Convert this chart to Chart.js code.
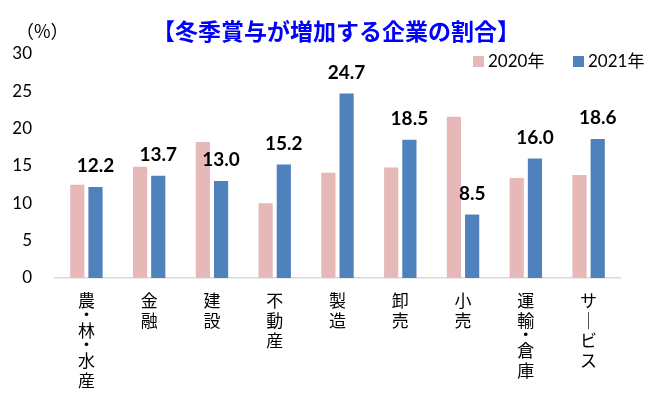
<!DOCTYPE html>
<html>
<head>
<meta charset="utf-8">
<script src="https://cdn.jsdelivr.net/npm/chart.js@4"></script>
<style>
  html, body { margin: 0; padding: 0; background: #fff; }
  #wrap { width: 650px; height: 409px; }
</style>
</head>
<body>
<div id="wrap"><canvas id="chart" width="650" height="409"></canvas></div>
<script>
// industries, written vertically one char per line
const categories = ["農・林・水産", "金融", "建設", "不動産", "製造", "卸売", "小売", "運輸・倉庫", "サービス"];
const values2020 = [12.5, 14.9, 18.2, 10.0, 14.1, 14.8, 21.6, 13.4, 13.8];
const values2021 = [12.2, 13.7, 13.0, 15.2, 24.7, 18.5, 8.5, 16.0, 18.6];
const seriesNames = ["2020年", "2021年"];
const seriesColors = ["#E6B9B8", "#4F81BD"];
const yTicks = [0, 5, 10, 15, 20, 25, 30];
const chartTitle = "【冬季賞与が増加する企業の割合】";
const unitLabel = "（%）";

const numFont = "Lato, 'Noto Sans CJK JP', sans-serif";
const jpFont = "'Noto Sans CJK JP', sans-serif";

// title, unit, legend, value labels and vertical category labels
const textPlugin = {
  id: "texts",
  afterDatasetsDraw(chart) {
    const ctx = chart.ctx;
    ctx.save();

    // title
    ctx.fillStyle = "#0000FF";
    ctx.font = "bold 23px " + jpFont;
    ctx.textAlign = "center";
    ctx.textBaseline = "middle";
    ctx.fillText(chartTitle, 336, 31);

    // unit
    ctx.fillStyle = "#000";
    ctx.font = "18px " + jpFont;
    ctx.textAlign = "left";
    ctx.fillText(unitLabel, 16, 31);

    // legend
    const legendX = [473, 573];
    ctx.font = "17px " + numFont;
    seriesNames.forEach((name, i) => {
      ctx.fillStyle = seriesColors[i];
      ctx.fillRect(legendX[i], 56, 11, 11);
      ctx.fillStyle = "#000";
      ctx.fillText(name, legendX[i] + 15, 62);
    });

    // values above 2021 bars
    const meta = chart.getDatasetMeta(1);
    ctx.font = "bold 19px " + numFont;
    ctx.textAlign = "center";
    meta.data.forEach((bar, i) => {
      ctx.fillText(values2021[i].toFixed(1), bar.x, bar.y - 21);
    });

    // category labels (vertical)
    const xScale = chart.scales.x;
    ctx.font = "17px " + jpFont;
    categories.forEach((cat, i) => {
      const x = xScale.getPixelForValue(i);
      let y = 293;
      cat.split("").forEach((ch) => {
        if (ch === "・") {
          ctx.fillText(ch, x, y + 2);
          y += 10;
        } else {
          ctx.fillText(ch === "ー" ? "｜" : ch, x, y + 8);
          y += 20;
        }
      });
    });

    ctx.restore();
  },
};

new Chart(document.getElementById("chart"), {
  type: "bar",
  data: {
    labels: categories,
    datasets: [
      {
        label: seriesNames[0],
        data: values2020,
        backgroundColor: seriesColors[0],
        categoryPercentage: 0.58,
        barPercentage: 0.78,
      },
      {
        label: seriesNames[1],
        data: values2021,
        backgroundColor: seriesColors[1],
        categoryPercentage: 0.58,
        barPercentage: 0.78,
      },
    ],
  },
  options: {
    responsive: false,
    animation: false,
    layout: { padding: { top: 54, right: 30, bottom: 0, left: 0 } },
    plugins: {
      title: { display: false },
      legend: { display: false },
      tooltip: { enabled: false },
    },
    scales: {
      x: {
        grid: { display: false, drawTicks: false },
        border: { color: "#D9D9D9", width: 1.5 },
        ticks: { display: false },
        afterFit(scale) {
          scale.height = 131;
        },
      },
      y: {
        min: 0,
        max: 30,
        grid: { display: false, drawTicks: false },
        border: { display: false },
        afterBuildTicks(scale) {
          scale.ticks = yTicks.map((v) => ({ value: v }));
        },
        ticks: {
          color: "#000",
          font: { family: numFont, size: 17 },
          padding: 23,
        },
        afterFit(scale) {
          scale.width = 55;
        },
      },
    },
  },
  plugins: [textPlugin],
});
</script>
</body>
</html>
